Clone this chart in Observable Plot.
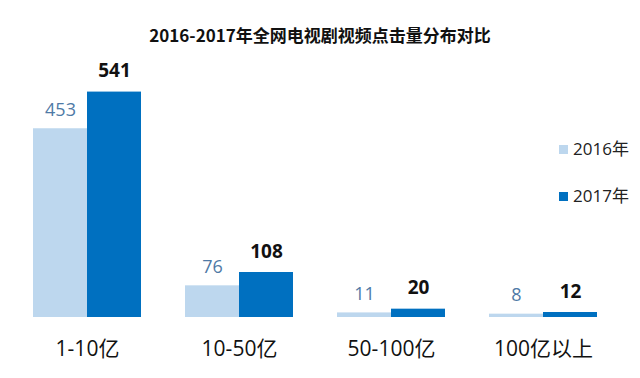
<!DOCTYPE html>
<html>
<head>
<meta charset="utf-8">
<script src="https://cdn.jsdelivr.net/npm/d3@7"></script>
<script src="https://cdn.jsdelivr.net/npm/@observablehq/plot@0.6"></script>
<style>
  body { margin: 0; background: #fff; }
  #wrap { position: relative; width: 640px; height: 378px; overflow: hidden; font-family: "Open Sans", "Noto Sans CJK SC", sans-serif; }
  #title { position: absolute; left: 0; width: 640px; top: 24px; text-align: center; font-family: "Noto Sans CJK SC", sans-serif; font-weight: bold; font-size: 17px; line-height: 22px; color: #111; }
  #chart { position: absolute; left: 0; top: 0; }
  .leg { position: absolute; left: 559px; display: flex; align-items: center; font-size: 17px; color: #222; line-height: 22px; }
  .leg span.sw { display: inline-block; width: 9px; height: 9px; margin-right: 5px; }
</style>
</head>
<body>
<div id="wrap">
  <div id="chart"></div>
  <div id="title">2016-2017年全网电视剧视频点击量分布对比</div>
  <div id="legend"></div>
</div>
<script>
const categories = ["1-10亿", "10-50亿", "50-100亿", "100亿以上"];
const years = ["2016年", "2017年"];
const values2016 = [453, 76, 11, 8];
const values2017 = [541, 108, 20, 12];
const colors = ["#bdd7ee", "#0070c0"];

const data = [];
categories.forEach((c, i) => {
  data.push({cat: c, year: years[0], value: values2016[i]});
  data.push({cat: c, year: years[1], value: values2017[i]});
});

const chart = Plot.plot({
  width: 640,
  height: 378,
  marginTop: 67,
  marginBottom: 61,
  marginLeft: 0,
  marginRight: 10,
  style: {fontFamily: "'Open Sans', 'Noto Sans CJK SC', sans-serif", background: "transparent"},
  fx: {domain: categories, paddingInner: 44 / 153, paddingOuter: 31 / 153, axis: null, label: null},
  x: {domain: years, padding: 0, axis: null},
  y: {domain: [0, 600], axis: null},
  color: {domain: years, range: colors},
  marks: [
    Plot.barY(data, {fx: "cat", x: "year", y: "value", fill: "year"}),
    Plot.text(data.filter(d => d.year === years[0]), {
      fx: "cat", x: "year", y: "value", text: d => String(d.value),
      dy: -19, fontSize: 18, fill: "#4f7aa6"
    }),
    Plot.text(data.filter(d => d.year === years[1]), {
      fx: "cat", x: "year", y: "value", text: d => String(d.value),
      dy: -21, fontSize: 19, fontWeight: "bold", fill: "#111"
    }),
    Plot.text(categories, {
      fx: d => d, text: d => d, frameAnchor: "bottom", lineAnchor: "middle", dy: 32,
      fontSize: 21, fill: "#111"
    })
  ]
});
document.getElementById("chart").appendChild(chart);

const legend = document.getElementById("legend");
const legTops = [138, 185];
years.forEach((y, i) => {
  const row = document.createElement("div");
  row.className = "leg";
  row.style.top = legTops[i] + "px";
  const sw = document.createElement("span");
  sw.className = "sw";
  sw.style.background = colors[i];
  row.appendChild(sw);
  row.appendChild(document.createTextNode(y));
  legend.appendChild(row);
});
</script>
</body>
</html>
